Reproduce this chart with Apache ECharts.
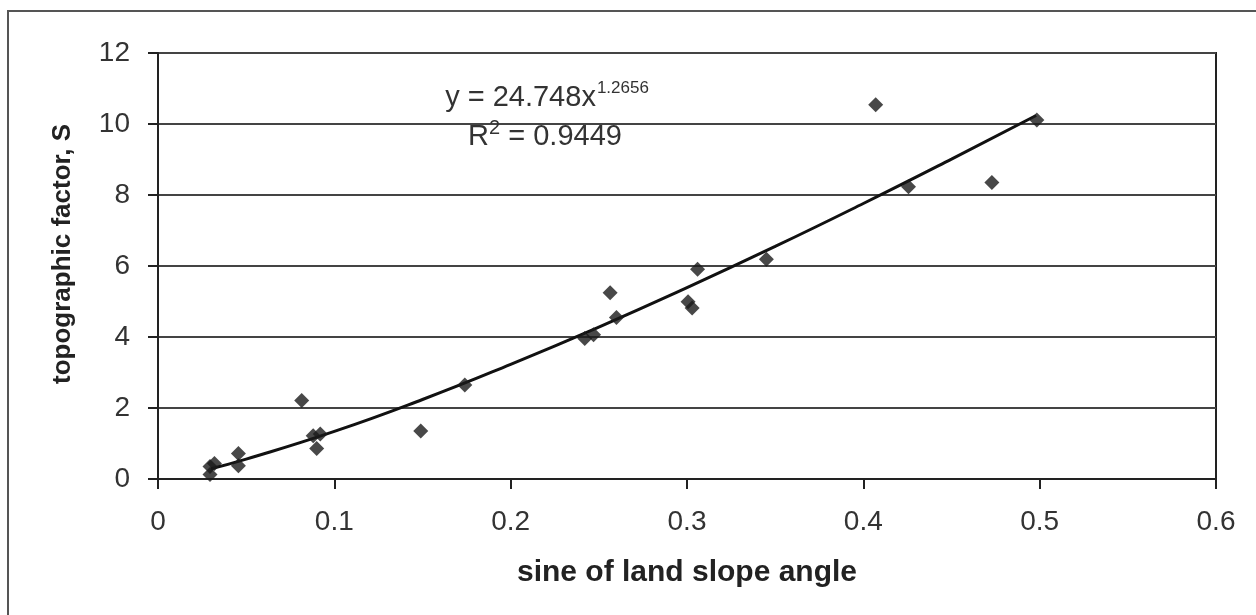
<!DOCTYPE html>
<html>
<head>
<meta charset="utf-8">
<script src="https://cdn.jsdelivr.net/npm/echarts@6/dist/echarts.min.js"></script>
<style>
html,body{margin:0;padding:0;background:#fff;}
#chart{width:1256px;height:615px;}
</style>
</head>
<body>
<div id="chart"></div>
<script>
// Observed points: sine of land slope angle (x) vs topographic factor S (y)
var slopeSine = [0.0295, 0.0295, 0.032, 0.0456, 0.0456, 0.0815, 0.088, 0.092, 0.090, 0.149, 0.174,
                 0.242, 0.247, 0.2564, 0.260, 0.3006, 0.3029, 0.306, 0.345, 0.407, 0.4256, 0.4729, 0.4984];
var topoFactor = [0.13, 0.35, 0.44, 0.72, 0.37, 2.21, 1.22, 1.27, 0.86, 1.35, 2.65,
                  3.96, 4.06, 5.25, 4.55, 4.99, 4.82, 5.91, 6.19, 10.54, 8.23, 8.35, 10.11];

// Trend line
var trendX = [0.03, 0.05, 0.10, 0.15, 0.20, 0.25, 0.30, 0.35, 0.40, 0.45, 0.498];
var trendY = [0.29, 0.56, 1.34, 2.24, 3.23, 4.28, 5.39, 6.55, 7.76, 9.01, 10.24];

var xTicks = {min: 0, max: 0.6, interval: 0.1};
var yTicks = {min: 0, max: 12, interval: 2};

var eqText = 'y = 24.748x';
var eqExp = '1.2656';
var r2Text = ' = 0.9449';

var scatterData = slopeSine.map(function (x, i) { return [x, topoFactor[i]]; });
var trendData = trendX.map(function (x, i) { return [x, trendY[i]]; });

var chart = echarts.init(document.getElementById('chart'));
var labelFont = 'Liberation Sans, Arial, sans-serif';
var richStyles = {
  a: {fontFamily: labelFont, fontSize: 29, lineHeight: 36, verticalAlign: 'bottom', fill: '#333'},
  s: {fontFamily: labelFont, fontSize: 17, lineHeight: 17, verticalAlign: 'top', padding: [4, 0, 0, 1], fill: '#333'},
  s2: {fontFamily: labelFont, fontSize: 20, lineHeight: 20, verticalAlign: 'top', padding: [3, 0, 0, 0], fill: '#333'}
};
chart.setOption({
  animation: false,
  backgroundColor: '#fff',
  grid: {left: 158, right: 40, top: 53, bottom: 136, show: true, borderColor: '#222', borderWidth: 2, backgroundColor: 'transparent'},
  xAxis: {
    type: 'value', min: xTicks.min, max: xTicks.max, interval: xTicks.interval,
    name: 'sine of land slope angle', nameLocation: 'middle', nameGap: 79,
    nameTextStyle: {fontFamily: labelFont, fontWeight: 'bold', fontSize: 30, color: '#222'},
    axisLine: {show: true, onZero: false, lineStyle: {color: '#222', width: 2}},
    axisTick: {show: true, inside: false, length: 10, lineStyle: {color: '#222', width: 2}},
    axisLabel: {fontFamily: labelFont, fontSize: 28, color: '#333', margin: 29,
      formatter: function (v) { return v === 0 ? '0' : v.toFixed(1); }},
    splitLine: {show: false}
  },
  yAxis: {
    type: 'value', min: yTicks.min, max: yTicks.max, interval: yTicks.interval,
    name: 'topographic factor, S', nameLocation: 'middle', nameGap: 82,
    nameTextStyle: {fontFamily: labelFont, fontWeight: 'bold', fontSize: 26, color: '#222', padding: [0, 0, 0, 24]},
    axisLine: {show: true, lineStyle: {color: '#222', width: 2}},
    axisTick: {show: true, inside: false, length: 10, lineStyle: {color: '#222', width: 2}},
    axisLabel: {fontFamily: labelFont, fontSize: 28, color: '#333', margin: 28},
    splitLine: {show: true, lineStyle: {color: '#444', width: 2}}
  },
  graphic: [
    {type: 'rect', silent: true, z: -1, shape: {x: 8, y: 11, width: 1400, height: 800},
     style: {fill: 'none', stroke: '#555', lineWidth: 2}},
    {type: 'text', x: 547, y: 76, z: 10,
     style: {text: '{a|' + eqText + '}{s|' + eqExp + '}', align: 'center', verticalAlign: 'top', rich: richStyles}},
    {type: 'text', x: 545, y: 115, z: 10,
     style: {text: '{a|R}{s2|2}{a|' + r2Text + '}', align: 'center', verticalAlign: 'top', rich: richStyles}}
  ],
  series: [
    {type: 'line', data: trendData, smooth: true, symbol: 'none', z: 3,
     lineStyle: {color: '#111', width: 3}},
    {type: 'scatter', data: scatterData, symbol: 'diamond', symbolSize: [15, 15], z: 4,
     itemStyle: {color: '#1a1a1a'}}
  ]
});
</script>
</body>
</html>
